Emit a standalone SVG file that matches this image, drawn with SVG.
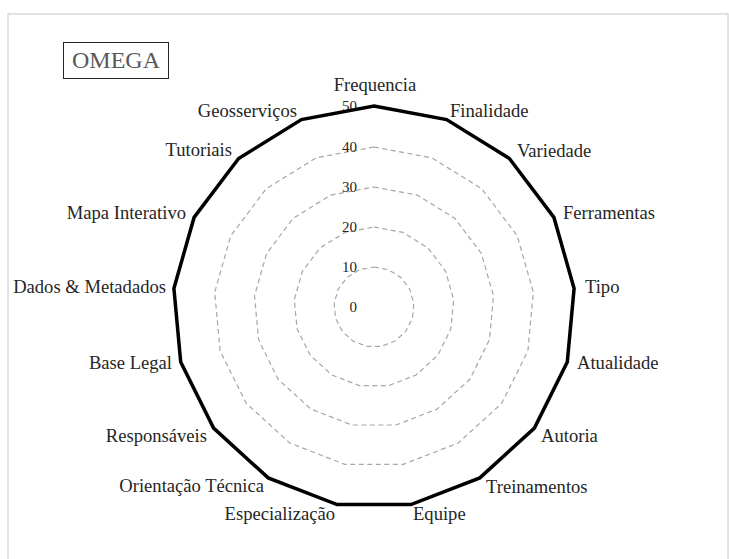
<svg xmlns="http://www.w3.org/2000/svg" width="729" height="559" viewBox="0 0 729 559">
  <style>
    .frame { fill: #ffffff; stroke: #d9d9d9; stroke-width: 1.5; }
    .grid { fill: none; stroke: #a6a6a6; stroke-width: 1.2; stroke-dasharray: 5 3.5; }
    .series { fill: none; stroke: #000000; stroke-width: 3.5; stroke-linejoin: miter; }
    .lbl { font-family: "Liberation Serif", "Times New Roman", serif; font-size: 18.6px; fill: #262626; }
    .tick { font-family: "Liberation Serif", "Times New Roman", serif; font-size: 15px; fill: #262626; text-anchor: end; }
    .title-box { fill: #ffffff; stroke: #262626; stroke-width: 1; }
    .title { font-family: "Liberation Serif", "Times New Roman", serif; font-size: 24px; fill: #595959; text-anchor: middle; }
  </style>

  <rect width="729" height="559" fill="#ffffff"/>
  <rect class="frame" x="8" y="14" width="720" height="560"/>

  <!-- title -->
  <g id="title">
    <rect class="title-box" x="63.5" y="42.5" width="105" height="36"/>
    <text class="title" x="116" y="68">OMEGA</text>
  </g>

  <!-- radial gridlines (10, 20, 30, 40) -->
  <g id="gridlines">
    <polygon class="grid" points="374,267 388.4,269.7 400.9,277.4 409.8,289.2 413.8,303.3 412.5,318 405.9,331.1 395.1,341 381.4,346.3 366.6,346.3 352.9,341 342.1,331.1 335.5,318 334.2,303.3 338.2,289.2 347.1,277.4 359.6,269.7"/>
    <polygon class="grid" points="374,227 402.9,232.4 427.9,247.9 445.6,271.3 453.7,299.6 450.9,328.9 437.8,355.2 416.1,375 388.7,385.6 359.3,385.6 331.9,375 310.2,355.2 297.1,328.9 294.3,299.6 302.4,271.3 320.1,247.9 345.1,232.4"/>
    <polygon class="grid" points="374,187 417.3,195.1 454.8,218.3 481.4,253.5 493.5,295.9 489.4,339.8 469.8,379.3 437.2,409 396.1,425 351.9,425 310.8,409 278.2,379.3 258.6,339.8 254.5,295.9 266.6,253.5 293.2,218.3 330.7,195.1"/>
    <polygon class="grid" points="374,147 431.8,157.8 481.8,188.8 517.2,235.7 533.3,292.2 527.9,350.8 501.7,403.4 458.2,443 403.4,464.3 344.6,464.3 289.8,443 246.3,403.4 220.1,350.8 214.7,292.2 230.8,235.7 266.2,188.8 316.2,157.8"/>
  </g>

  <!-- scale values -->
  <g id="scale">
    <text class="tick" x="357" y="312">0</text>
    <text class="tick" x="357" y="272">10</text>
    <text class="tick" x="357" y="232">20</text>
    <text class="tick" x="357" y="192">30</text>
    <text class="tick" x="357" y="152">40</text>
    <text class="tick" x="357" y="111">50</text>
  </g>

  <!-- data series: all categories at 50 -->
  <g id="series">
    <polygon class="series" points="374,106 446.6,119.6 509.4,158.5 553.9,217.4 574.1,288.5 567.3,362 534.4,428.1 479.8,477.9 410.9,504.6 337.1,504.6 268.2,477.9 213.6,428.1 180.7,362 173.9,288.5 194.1,217.4 238.6,158.5 301.4,119.6"/>
  </g>

  <!-- category labels -->
  <g id="labels">
    <g id="lbl-frequencia"><text class="lbl" x="375" y="91" text-anchor="middle">Frequencia</text></g>
    <g id="lbl-finalidade"><text class="lbl" x="450" y="117">Finalidade</text></g>
    <g id="lbl-variedade"><text class="lbl" x="517" y="157">Variedade</text></g>
    <g id="lbl-ferramentas"><text class="lbl" x="563" y="219">Ferramentas</text></g>
    <g id="lbl-tipo"><text class="lbl" x="585" y="293">Tipo</text></g>
    <g id="lbl-atualidade"><text class="lbl" x="577" y="369">Atualidade</text></g>
    <g id="lbl-autoria"><text class="lbl" x="541" y="442">Autoria</text></g>
    <g id="lbl-treinamentos"><text class="lbl" x="486" y="493">Treinamentos</text></g>
    <g id="lbl-equipe"><text class="lbl" x="413" y="520">Equipe</text></g>
    <g id="lbl-especializacao"><text class="lbl" x="335" y="520" text-anchor="end">Especialização</text></g>
    <g id="lbl-orientacao"><text class="lbl" x="264" y="492" text-anchor="end">Orientação Técnica</text></g>
    <g id="lbl-responsaveis"><text class="lbl" x="207" y="442" text-anchor="end">Responsáveis</text></g>
    <g id="lbl-base-legal"><text class="lbl" x="172" y="369" text-anchor="end">Base Legal</text></g>
    <g id="lbl-dados"><text class="lbl" x="166" y="293" text-anchor="end">Dados &amp; Metadados</text></g>
    <g id="lbl-mapa"><text class="lbl" x="186" y="219" text-anchor="end">Mapa Interativo</text></g>
    <g id="lbl-tutoriais"><text class="lbl" x="232" y="156" text-anchor="end">Tutoriais</text></g>
    <g id="lbl-geosservicos"><text class="lbl" x="297" y="117" text-anchor="end">Geosserviços</text></g>
  </g>
</svg>
